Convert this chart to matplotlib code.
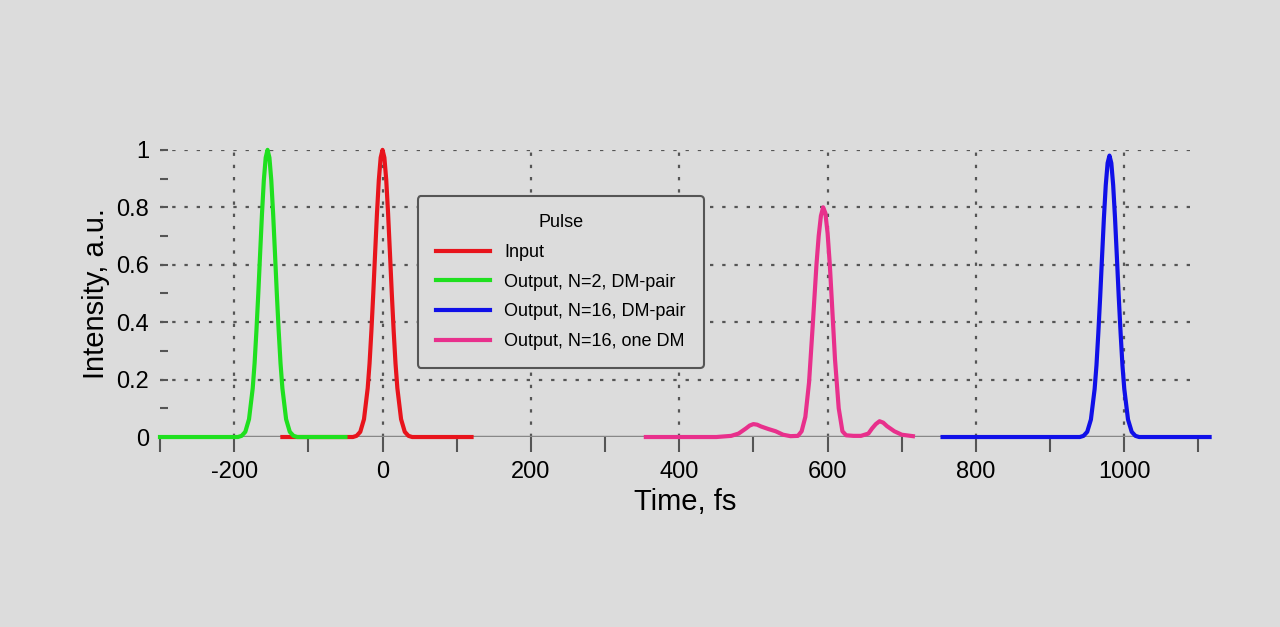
import matplotlib
matplotlib.use("Agg")
import matplotlib.pyplot as plt
from matplotlib.ticker import MultipleLocator

plt.rcParams['font.family'] = ['Liberation Sans', 'DejaVu Sans']
plt.rcParams['axes.unicode_minus'] = False

t_in = [-135, -40, -35, -30, -25, -20, -17.5, -15, -12.5, -10, -7.5, -5, -2.5, 0,
        2.5, 5, 7.5, 10, 12.5, 15, 17.5, 20, 25, 30, 35, 40, 120]
i_in = [0, 0, 0.004, 0.018, 0.062, 0.17, 0.256, 0.37, 0.499, 0.64, 0.778, 0.895, 0.973, 1,
        0.973, 0.895, 0.778, 0.64, 0.499, 0.37, 0.256, 0.17, 0.062, 0.018, 0.004, 0, 0]
t_n2 = [-300, -195, -190, -185, -180, -175, -172.5, -170, -167.5, -165, -162.5, -160, -157.5, -155,
        -152.5, -150, -147.5, -145, -142.5, -140, -137.5, -135, -130, -125, -120, -115, -50]
i_n2 = [0, 0, 0.004, 0.018, 0.062, 0.17, 0.256, 0.37, 0.499, 0.64, 0.778, 0.895, 0.973, 1,
        0.973, 0.895, 0.778, 0.64, 0.499, 0.37, 0.256, 0.17, 0.062, 0.018, 0.004, 0, 0]
t_n16 = [755, 940, 945, 950, 955, 960, 962.5, 965, 967.5, 970, 972.5, 975, 977.5, 980,
         982.5, 985, 987.5, 990, 992.5, 995, 997.5, 1000, 1005, 1010, 1015, 1020, 1115]
i_n16 = [0, 0, 0.004, 0.018, 0.061, 0.167, 0.25, 0.363, 0.489, 0.627, 0.762, 0.877, 0.954, 0.98,
         0.954, 0.877, 0.762, 0.627, 0.489, 0.363, 0.25, 0.167, 0.061, 0.018, 0.004, 0, 0]
t_one = [355, 450, 470, 480, 490, 495, 500, 505, 510, 520, 530, 540, 550, 560, 565, 570,
         575, 580, 585, 588, 591, 594, 597, 600, 603, 606, 610, 615, 620, 625, 635, 645,
         655, 660, 665, 670, 675, 680, 690, 700, 715]
i_one = [0, 0, 0.004, 0.012, 0.03, 0.04, 0.045, 0.043, 0.037, 0.028, 0.02, 0.008, 0.003, 0.004,
         0.02, 0.07, 0.19, 0.39, 0.6, 0.7, 0.77, 0.8, 0.78, 0.71, 0.6, 0.46, 0.27, 0.1, 0.02,
         0.006, 0.004, 0.004, 0.012, 0.03, 0.045, 0.055, 0.05, 0.038, 0.02, 0.008, 0.003]

series = [
    (t_in, i_in, "#e8141c", "Input"),
    (t_n2, i_n2, "#1fe01f", "Output, N=2, DM-pair"),
    (t_n16, i_n16, "#1010e8", "Output, N=16, DM-pair"),
    (t_one, i_one, "#e8308c", "Output, N=16, one DM"),
]

bg = "#dcdcdc"
fig = plt.figure(figsize=(12.8, 6.27), dpi=100, facecolor=bg)
ax = fig.add_axes([0.125, 0.303, 0.82, 0.458], facecolor=bg)
ax.set_xlim(-300, 1115)
ax.set_ylim(0, 1)

for y in [0.2, 0.4, 0.6, 0.8, 1.0]:
    ax.hlines(y, -300, 1100, colors="#555555", linestyles=(0, (1.5, 4)), lw=1.6, zorder=1)
for x in [-200, 0, 200, 400, 600, 800, 1000]:
    ax.vlines(x, 0, 1, colors="#555555", linestyles=(0, (1.5, 4)), lw=1.6, zorder=1)
ax.hlines(0, -300, 1115, colors="#888888", lw=2.5, zorder=1)

for t, v, c, lab in series:
    ax.plot(t, v, color=c, lw=3, label=lab, clip_on=False, zorder=3,
            solid_joinstyle="round")

for s in ax.spines.values():
    s.set_visible(False)
ax.xaxis.set_major_locator(MultipleLocator(200))
ax.xaxis.set_minor_locator(MultipleLocator(100))
ax.yaxis.set_minor_locator(MultipleLocator(0.1))
ax.set_yticks([0, 0.2, 0.4, 0.6, 0.8, 1.0])
ax.set_yticklabels(["0", "0.2", "0.4", "0.6", "0.8", "1"])
ax.tick_params(axis="x", which="both", direction="out", length=11, width=1.5,
               color="#555555", labelsize=17, pad=6)
ax.tick_params(axis="y", which="both", direction="in", length=6, width=1.5,
               color="#555555", labelsize=17, pad=8)
ax.set_xlabel("Time, fs", fontsize=21)
ax.set_ylabel("Intensity, a.u.", fontsize=21)

leg = ax.legend(title="Pulse", loc="upper left", bbox_to_anchor=(0.237, 0.87),
                fontsize=13, title_fontsize=13, frameon=True, fancybox=True,
                facecolor=bg, edgecolor="#555555", borderpad=1.0, handlelength=3,
                labelspacing=0.7)
leg.get_frame().set_linewidth(1.5)
leg.get_frame().set_alpha(1)

fig.savefig("out.png", dpi=100, facecolor=bg)
